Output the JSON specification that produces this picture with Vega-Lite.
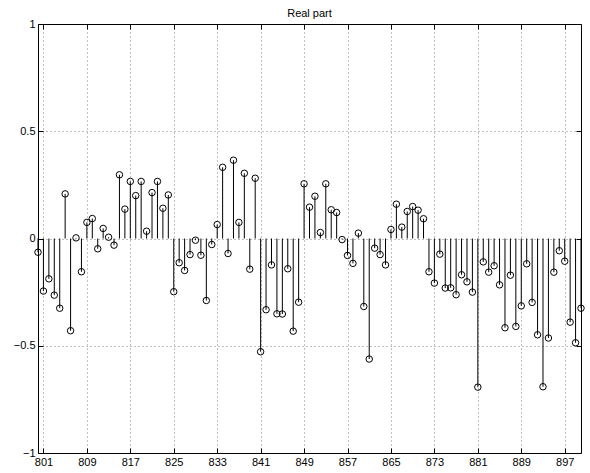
{
  "$schema": "https://vega.github.io/schema/vega-lite/v6.json",
  "width": 543,
  "height": 429,
  "autosize": {"type": "none"},
  "padding": {"left": 38, "top": 24, "right": 9, "bottom": 20},
  "background": "white",
  "title": {"text": "Real part", "fontSize": 11, "font": "Liberation Sans", "fontWeight": "normal", "color": "black", "offset": -1},
  "config": {
    "view": {"stroke": "black", "strokeWidth": 1},
    "axis": {"labelFont": "Liberation Sans", "labelFontSize": 11, "labelColor": "black", "domain": false, "tickColor": "black", "gridColor": "black", "gridDash": [1, 3], "gridOpacity": 0.5, "title": null}
  },
  "data": {"values": [
    {"x": 800, "v": -0.064}, {"x": 801, "v": -0.245}, {"x": 802, "v": -0.188}, {"x": 803, "v": -0.264},
    {"x": 804, "v": -0.325}, {"x": 805, "v": 0.208}, {"x": 806, "v": -0.430}, {"x": 807, "v": 0.003},
    {"x": 808, "v": -0.155}, {"x": 809, "v": 0.075}, {"x": 810, "v": 0.093}, {"x": 811, "v": -0.048},
    {"x": 812, "v": 0.047}, {"x": 813, "v": 0.006}, {"x": 814, "v": -0.031}, {"x": 815, "v": 0.297},
    {"x": 816, "v": 0.137}, {"x": 817, "v": 0.266}, {"x": 818, "v": 0.200}, {"x": 819, "v": 0.266},
    {"x": 820, "v": 0.034}, {"x": 821, "v": 0.214}, {"x": 822, "v": 0.266}, {"x": 823, "v": 0.141},
    {"x": 824, "v": 0.203}, {"x": 825, "v": -0.248}, {"x": 826, "v": -0.113}, {"x": 827, "v": -0.149},
    {"x": 828, "v": -0.075}, {"x": 829, "v": -0.008}, {"x": 830, "v": -0.078}, {"x": 831, "v": -0.289},
    {"x": 832, "v": -0.028}, {"x": 833, "v": 0.065}, {"x": 834, "v": 0.332}, {"x": 835, "v": -0.070},
    {"x": 836, "v": 0.365}, {"x": 837, "v": 0.075}, {"x": 838, "v": 0.304}, {"x": 839, "v": -0.143},
    {"x": 840, "v": 0.281}, {"x": 841, "v": -0.528}, {"x": 842, "v": -0.332}, {"x": 843, "v": -0.123},
    {"x": 844, "v": -0.351}, {"x": 845, "v": -0.352}, {"x": 846, "v": -0.141}, {"x": 847, "v": -0.432},
    {"x": 848, "v": -0.297}, {"x": 849, "v": 0.255}, {"x": 850, "v": 0.146}, {"x": 851, "v": 0.197},
    {"x": 852, "v": 0.028}, {"x": 853, "v": 0.255}, {"x": 854, "v": 0.134}, {"x": 855, "v": 0.121},
    {"x": 856, "v": -0.005}, {"x": 857, "v": -0.079}, {"x": 858, "v": -0.116}, {"x": 859, "v": 0.025},
    {"x": 860, "v": -0.317}, {"x": 861, "v": -0.562}, {"x": 862, "v": -0.045}, {"x": 863, "v": -0.075},
    {"x": 864, "v": -0.123}, {"x": 865, "v": 0.042}, {"x": 866, "v": 0.160}, {"x": 867, "v": 0.053},
    {"x": 868, "v": 0.126}, {"x": 869, "v": 0.149}, {"x": 870, "v": 0.132}, {"x": 871, "v": 0.092},
    {"x": 872, "v": -0.155}, {"x": 873, "v": -0.208}, {"x": 874, "v": -0.073}, {"x": 875, "v": -0.231},
    {"x": 876, "v": -0.230}, {"x": 877, "v": -0.262}, {"x": 878, "v": -0.169}, {"x": 879, "v": -0.202},
    {"x": 880, "v": -0.250}, {"x": 881, "v": -0.693}, {"x": 882, "v": -0.109}, {"x": 883, "v": -0.157},
    {"x": 884, "v": -0.127}, {"x": 885, "v": -0.216}, {"x": 886, "v": -0.416}, {"x": 887, "v": -0.171},
    {"x": 888, "v": -0.410}, {"x": 889, "v": -0.314}, {"x": 890, "v": -0.118}, {"x": 891, "v": -0.298},
    {"x": 892, "v": -0.449}, {"x": 893, "v": -0.691}, {"x": 894, "v": -0.464}, {"x": 895, "v": -0.157},
    {"x": 896, "v": -0.057}, {"x": 897, "v": -0.106}, {"x": 898, "v": -0.390}, {"x": 899, "v": -0.486},
    {"x": 900, "v": -0.325}
  ]},
  "layer": [
    {
      "mark": {"type": "rule", "color": "black", "strokeWidth": 1},
      "encoding": {
        "x": {"field": "x", "type": "quantitative", "scale": {"domain": [800, 900], "nice": false, "zero": false},
              "axis": {"values": [801, 809, 817, 825, 833, 841, 849, 857, 865, 873, 881, 889, 897], "grid": true, "tickSize": -5, "labelPadding": 8, "orient": "bottom"}},
        "y": {"field": "v", "type": "quantitative", "scale": {"domain": [-1, 1], "nice": false},
              "axis": {"values": [-1, -0.5, 0, 0.5, 1], "grid": true, "tickSize": -5, "labelPadding": 8, "format": "~g", "orient": "left"}},
        "y2": {"datum": 0}
      }
    },
    {
      "mark": {"type": "point", "shape": "circle", "filled": false, "color": "black", "strokeWidth": 1, "size": 42, "opacity": 1},
      "encoding": {
        "x": {"field": "x", "type": "quantitative", "axis": null},
        "y": {"field": "v", "type": "quantitative", "axis": null}
      }
    },
    {
      "mark": {"type": "point", "opacity": 0},
      "encoding": {
        "x": {"field": "x", "type": "quantitative",
              "axis": {"orient": "top", "values": [801, 809, 817, 825, 833, 841, 849, 857, 865, 873, 881, 889, 897], "labels": false, "grid": false, "tickSize": -5}},
        "y": {"field": "v", "type": "quantitative",
              "axis": {"orient": "right", "values": [-1, -0.5, 0, 0.5, 1], "labels": false, "grid": false, "tickSize": -5}}
      }
    }
  ],
  "resolve": {"axis": {"x": "independent", "y": "independent"}}
}
